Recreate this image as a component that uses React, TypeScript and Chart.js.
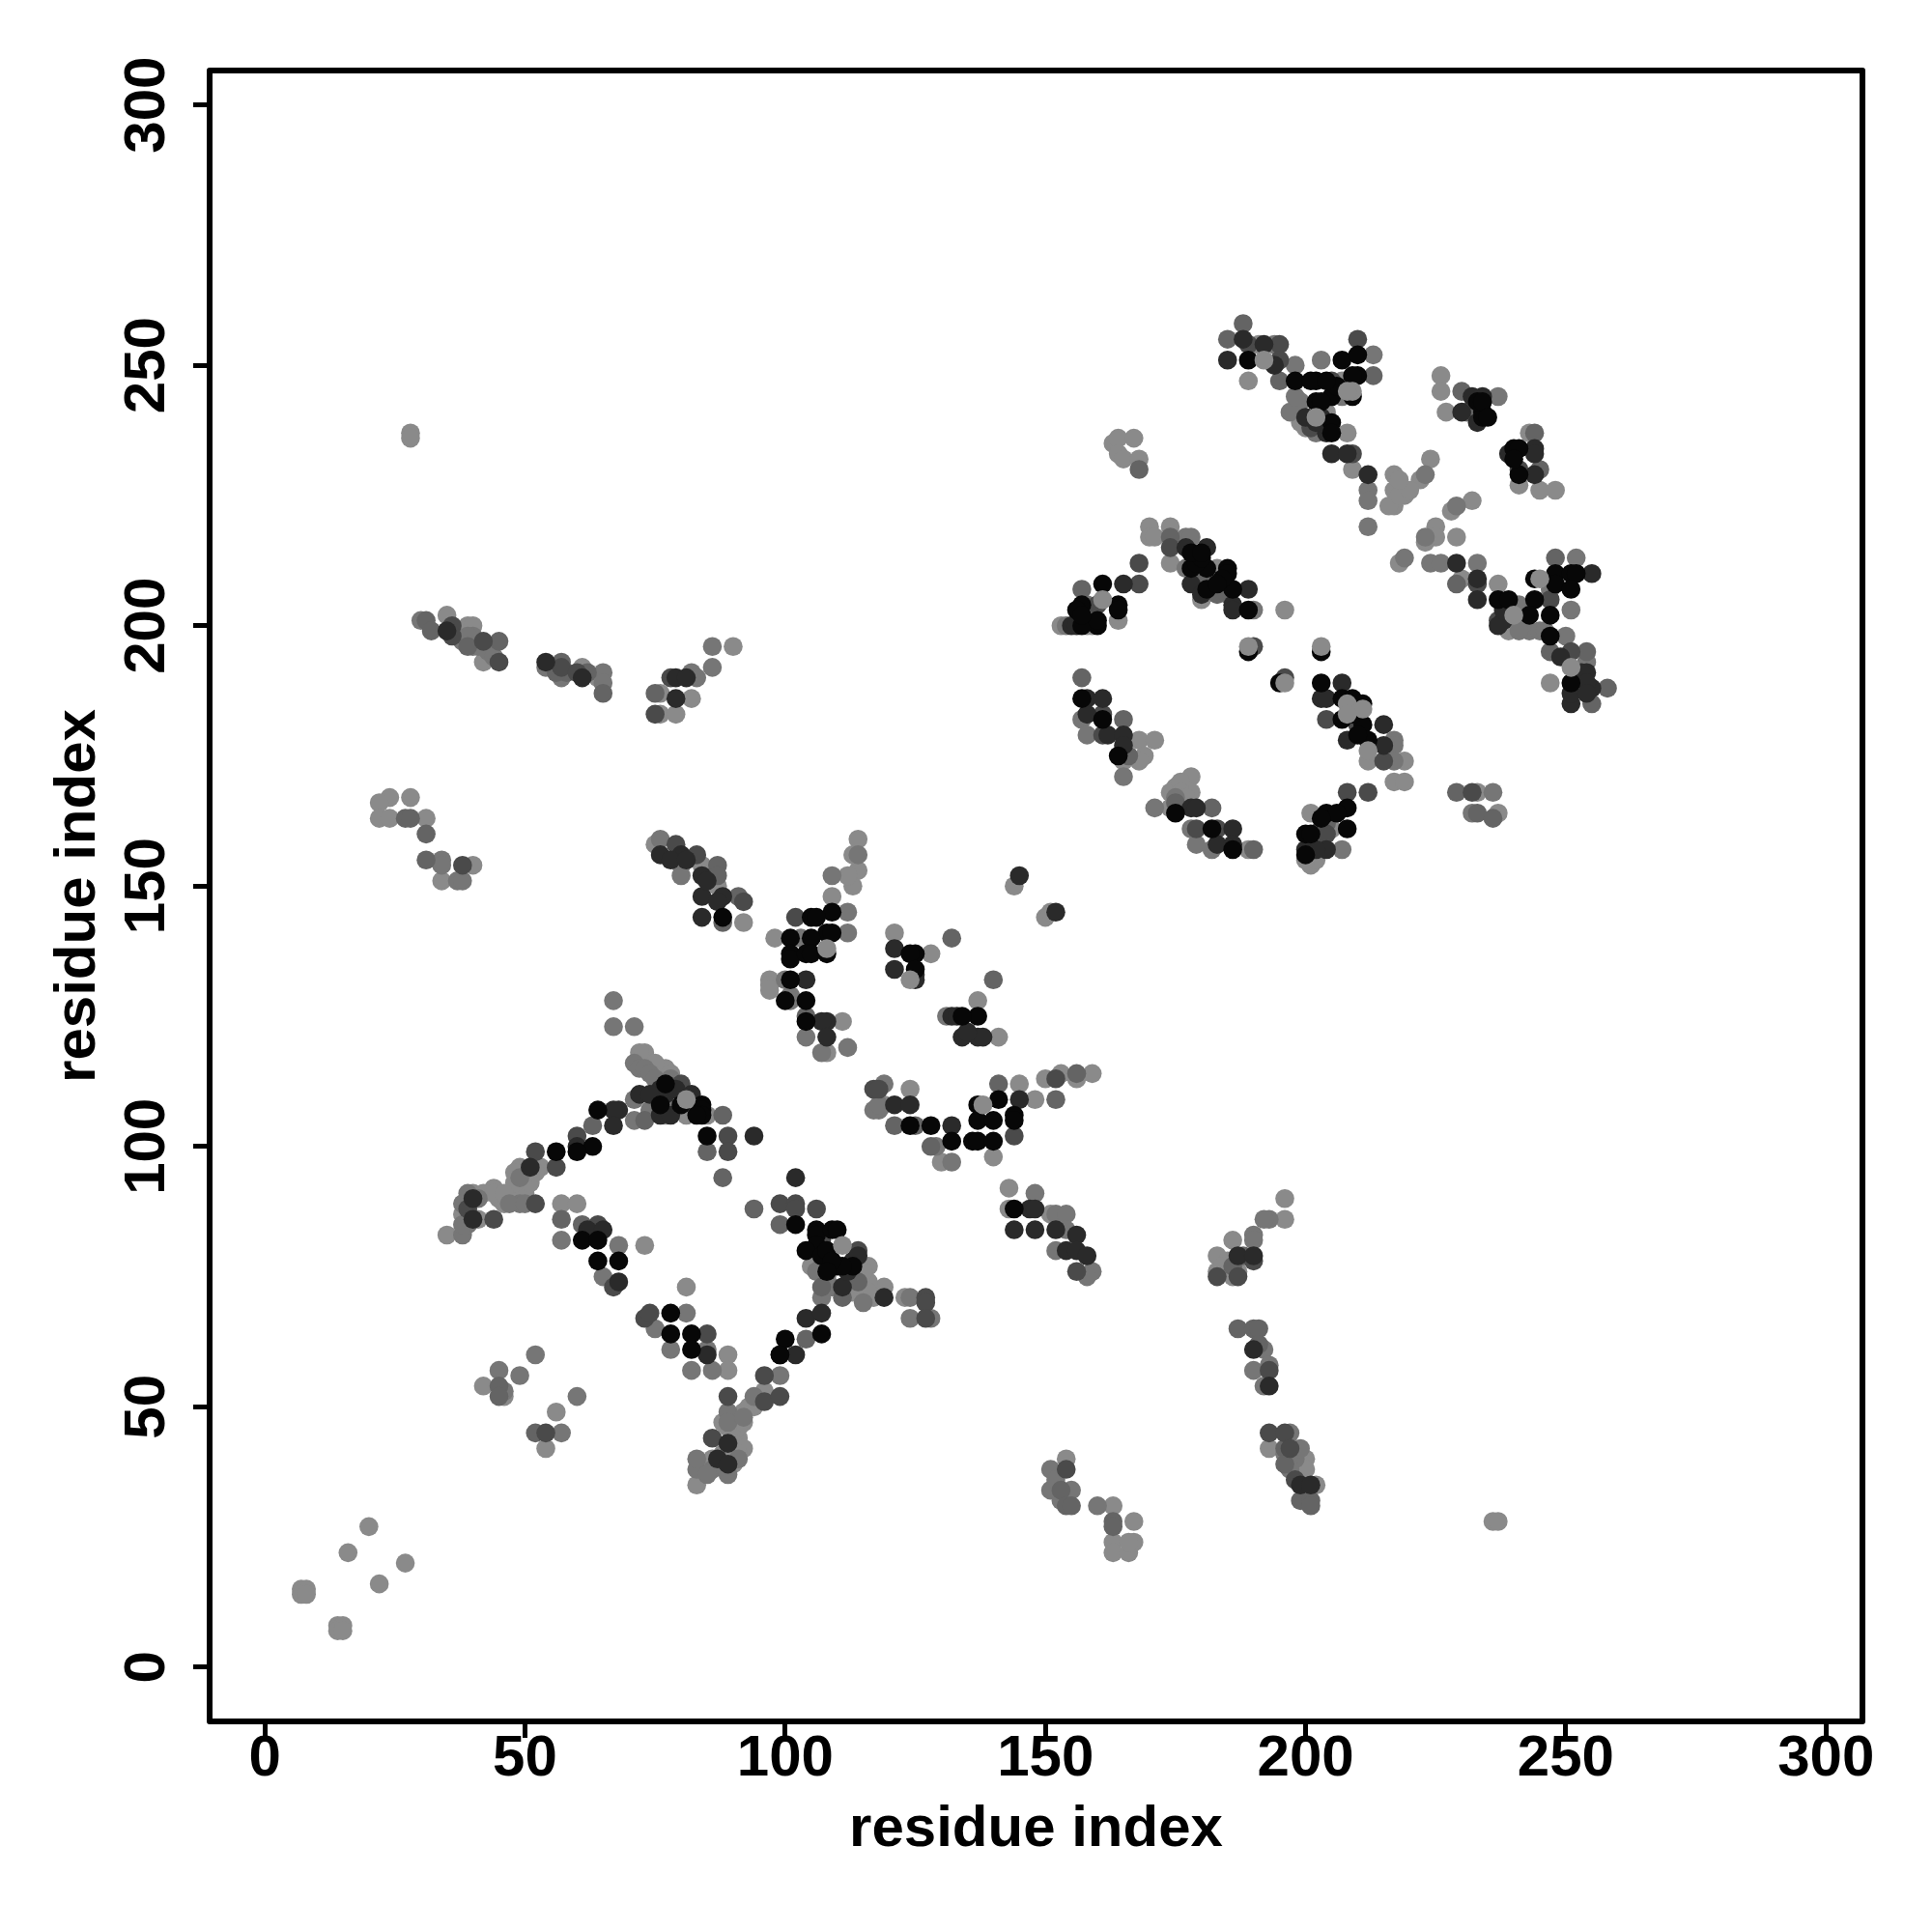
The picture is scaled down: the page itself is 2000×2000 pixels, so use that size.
import React, { useEffect, useRef } from "react";
import { Chart, registerables } from "chart.js";

Chart.register(...registerables);

type P = [number, number];

const tickValues = [0, 50, 100, 150, 200, 250, 300];
const axisLabel = "residue index";

const blackPts: P[] = [[109,145],[105,144],[106,144],[108,141],[109,141],[101,140],[105,140],[101,137],[101,136],[104,137],[105,137],[108,137],[101,132],[104,128],[100,128],[104,124],[125,137],[124,137],[125,134],[137,125],[134,125],[124,104],[128,104],[132,101],[137,108],[141,109],[137,105],[140,105],[144,106],[144,105],[136,101],[137,101],[140,101],[102,85],[106,84],[106,83],[109,84],[110,84],[106,81],[64,107],[84,108],[84,107],[76,108],[80,108],[77,112],[63,100],[60,99],[56,99],[61,82],[64,82],[64,78],[68,78],[78,68],[78,64],[82,64],[82,61],[107,64],[100,63],[99,60],[110,77],[113,77],[111,77],[161,208],[157,204],[164,204],[164,203],[160,200],[157,200],[160,201],[178,211],[181,211],[185,211],[185,210],[181,207],[186,207],[189,203],[189,195],[203,195],[195,189],[203,189],[207,186],[211,185],[207,182],[211,181],[212,178],[208,165],[204,164],[206,164],[208,161],[200,160],[201,160],[200,156],[157,186],[161,182],[164,175],[175,164],[182,161],[186,157],[189,251],[207,251],[210,252],[210,248],[209,248],[198,247],[202,247],[209,244],[202,243],[205,244],[205,239],[205,237],[237,205],[239,205],[248,210],[251,210],[252,210],[244,209],[248,208],[251,207],[244,205],[247,202],[243,202],[247,198],[251,189],[234,241],[234,240],[240,234],[241,229],[88,144],[144,88],[84,106],[83,106],[85,102],[104,80],[107,79],[108,80],[109,78],[108,76],[203,243],[206,246],[201,247],[204,247],[233,243],[234,243],[235,240],[241,234],[240,232],[209,183],[210,179],[209,186],[156,203],[157,202],[179,212],[180,213],[184,209],[183,208],[178,214],[180,214],[203,163]];

const darkPts: P[] = [[145,152],[152,145],[108,124],[107,124],[121,138],[121,134],[125,133],[125,132],[104,132],[108,121],[134,121],[137,121],[138,121],[132,125],[121,108],[124,108],[132,104],[145,109],[102,94],[147,88],[148,88],[144,84],[148,84],[152,84],[154,80],[156,83],[156,80],[158,79],[68,107],[67,107],[67,104],[60,100],[51,96],[40,90],[40,86],[68,74],[85,60],[111,73],[119,71],[104,67],[107,68],[99,60],[102,60],[87,40],[89,43],[89,39],[190,61],[193,54],[199,35],[201,35],[187,79],[190,79],[177,215],[181,215],[165,208],[155,200],[156,200],[178,208],[189,207],[186,204],[186,203],[207,189],[203,186],[204,186],[208,178],[215,181],[215,177],[158,186],[161,186],[158,183],[162,179],[165,179],[165,177],[178,165],[179,165],[186,161],[183,158],[186,158],[204,157],[200,157],[202,157],[188,255],[192,254],[185,251],[194,250],[205,233],[208,233],[212,229],[229,212],[233,209],[233,205],[238,201],[255,210],[254,191],[255,188],[234,244],[230,241],[233,239],[239,233],[244,234],[244,233],[244,229],[35,199],[54,193],[61,190],[79,190],[81,190],[79,186],[84,148],[88,148],[87,147],[84,144],[76,156],[80,156],[84,152],[94,102],[76,111],[77,110],[79,111],[82,110],[72,110],[74,110],[76,106],[78,106],[112,76],[113,78],[114,79],[203,240],[204,237],[200,240],[202,239],[232,244],[249,194],[253,191],[254,189],[251,185],[251,187],[254,187],[237,200],[238,203],[180,206],[62,84],[65,84],[133,125],[135,122],[78,155],[81,155],[85,151]];

const slatePts: P[] = [[102,144],[80,112],[60,102],[56,96],[52,99],[52,89],[44,86],[64,85],[67,73],[73,67],[74,68],[85,64],[127,71],[127,70],[127,67],[99,89],[102,89],[106,88],[102,88],[114,80],[144,102],[152,113],[156,76],[183,75],[187,75],[190,78],[193,57],[193,45],[196,45],[197,42],[154,38],[174,215],[168,212],[168,208],[160,204],[190,196],[196,190],[204,182],[215,174],[208,168],[212,168],[204,160],[161,183],[161,179],[179,161],[183,161],[232,168],[189,254],[195,254],[195,251],[205,247],[201,238],[209,233],[233,208],[237,201],[247,205],[251,195],[210,255],[241,230],[42,197],[45,193],[57,192],[78,190],[92,147],[83,156],[79,158],[75,183],[96,51],[96,56],[89,52],[99,52],[86,44],[54,45],[38,154],[89,102],[89,99],[39,88],[198,36],[210,181],[107,82],[117,111],[118,111],[36,200],[36,198],[60,191]];

const ashPts: P[] = [[132,140],[104,125],[140,132],[121,104],[125,104],[128,100],[141,112],[156,114],[152,109],[94,88],[99,85],[57,86],[61,85],[111,71],[107,73],[114,74],[104,63],[63,104],[73,105],[187,65],[190,65],[191,65],[191,62],[196,42],[196,39],[199,32],[201,32],[201,31],[153,34],[154,31],[155,31],[163,28],[163,27],[45,54],[45,52],[52,45],[174,217],[157,207],[157,190],[165,182],[166,175],[175,166],[182,165],[190,157],[229,168],[233,164],[236,163],[188,258],[185,255],[195,247],[213,248],[231,241],[230,245],[245,230],[244,237],[248,213],[254,195],[247,195],[258,188],[229,208],[31,201],[32,199],[39,196],[45,197],[57,193],[62,191],[65,187],[75,187],[27,163],[28,163],[31,160],[31,155],[91,148],[87,154],[87,152],[88,143],[168,230],[88,106],[85,99],[88,94],[186,77],[188,79],[255,185],[159,201],[179,209],[181,209],[183,206],[185,206],[204,162],[203,161],[202,158],[58,191],[56,191]];

const midPts: P[] = [[114,156],[109,152],[103,140],[100,132],[101,129],[101,128],[104,121],[107,118],[112,119],[112,141],[112,145],[131,125],[119,112],[118,107],[129,100],[132,97],[148,91],[152,87],[154,87],[154,84],[152,80],[159,76],[158,75],[67,128],[67,123],[71,123],[71,116],[72,115],[73,115],[71,109],[71,105],[77,108],[49,89],[39,91],[38,83],[49,94],[57,82],[68,81],[65,75],[75,65],[81,68],[78,61],[85,61],[82,57],[86,57],[124,71],[124,67],[128,67],[107,77],[107,71],[52,60],[45,57],[49,56],[46,53],[60,52],[57,45],[94,52],[99,56],[89,49],[83,38],[83,40],[91,40],[86,38],[192,61],[193,58],[190,57],[192,54],[197,45],[151,38],[151,34],[155,34],[160,31],[190,83],[190,82],[193,86],[192,86],[177,217],[178,217],[177,211],[182,207],[158,204],[154,200],[190,203],[157,182],[158,179],[165,171],[171,165],[178,161],[179,158],[182,157],[207,157],[217,178],[217,177],[217,174],[236,168],[232,164],[194,254],[198,250],[199,243],[202,237],[212,226],[212,224],[212,219],[223,229],[229,223],[223,217],[219,213],[224,212],[226,212],[233,212],[252,213],[251,203],[247,207],[243,199],[250,198],[254,193],[237,244],[203,251],[213,252],[30,201],[34,155],[34,154],[37,151],[38,151],[40,196],[54,192],[57,190],[65,191],[65,189],[86,196],[86,192],[82,191],[83,190],[76,159],[80,154],[80,152],[74,114],[75,113],[78,113],[74,107],[78,107],[47,89],[50,89],[41,90],[38,89],[39,85],[38,85],[89,47],[87,39],[89,37],[85,37],[92,48],[198,40],[197,38],[199,42],[196,41],[152,36],[153,32],[197,241],[198,244],[207,244],[241,204],[241,201],[245,199],[246,199],[241,199],[159,203],[158,202],[106,76],[108,75],[109,73],[115,70],[117,107],[118,108],[41,196],[43,195],[38,197],[40,198],[39,198],[44,194],[175,167],[201,158]];

const greyPts: P[] = [[114,159],[113,156],[114,153],[113,150],[112,152],[109,148],[98,140],[97,132],[97,131],[97,130],[111,124],[108,118],[121,141],[128,137],[137,128],[141,121],[144,150],[150,144],[151,145],[124,111],[119,108],[130,97],[145,112],[148,109],[150,113],[153,114],[159,114],[156,113],[140,98],[143,92],[143,88],[151,87],[116,77],[73,118],[77,115],[44,92],[49,92],[40,91],[42,91],[45,90],[46,89],[49,96],[53,96],[38,87],[41,86],[35,83],[57,89],[60,89],[73,81],[81,73],[89,60],[89,57],[119,73],[116,74],[117,71],[123,71],[20,27],[16,22],[27,20],[22,16],[7,15],[8,15],[7,14],[8,14],[14,8],[15,8],[14,7],[15,7],[42,54],[46,52],[56,49],[54,42],[89,46],[91,44],[92,49],[96,53],[86,40],[90,39],[83,35],[186,82],[183,79],[183,76],[187,76],[196,86],[196,90],[193,42],[200,40],[200,38],[202,35],[236,28],[237,28],[154,40],[163,31],[167,28],[163,24],[163,22],[166,22],[167,24],[166,24],[170,219],[170,217],[171,217],[174,219],[174,212],[183,211],[164,201],[159,200],[212,174],[219,174],[217,170],[219,170],[201,164],[205,161],[201,154],[168,178],[171,178],[169,175],[168,174],[165,174],[174,165],[175,169],[174,168],[178,171],[178,168],[189,157],[233,168],[237,164],[191,254],[189,247],[207,247],[199,239],[208,237],[209,230],[217,229],[217,226],[219,225],[217,223],[216,223],[224,232],[222,228],[232,224],[228,222],[225,219],[229,217],[225,217],[223,216],[218,212],[230,209],[237,208],[239,199],[247,189],[226,248],[226,245],[227,241],[243,237],[241,227],[245,226],[248,226],[35,202],[39,200],[40,200],[42,193],[61,192],[64,190],[90,196],[76,187],[82,186],[76,183],[79,183],[24,167],[28,167],[22,166],[22,163],[24,163],[31,163],[34,151],[40,154],[84,154],[87,150],[75,158],[92,143],[28,237],[28,236],[163,235],[164,236],[167,236],[164,233],[165,232],[168,232],[85,106],[77,106],[81,106],[72,117],[73,116],[74,115],[72,118],[75,116],[78,114],[47,91],[48,90],[50,91],[51,93],[50,95],[52,95],[48,93],[44,91],[46,91],[48,95],[91,46],[92,47],[90,48],[93,50],[95,51],[94,50],[88,47],[90,43],[92,42],[91,41],[88,41],[85,39],[185,78],[184,77],[186,75],[200,238],[204,241],[153,200],[158,200],[180,205],[105,77],[113,75],[115,73],[113,72],[116,72],[115,76],[176,170],[176,168],[177,167],[203,159],[202,155],[200,155],[218,225],[220,226],[218,228]];

const topGreyPts: P[] = [[108,138],[81,109],[111,81],[124,132],[138,108],[196,203],[203,196],[196,189],[189,196],[208,185],[211,184],[161,205],[192,251],[209,245],[245,209],[240,202],[251,192],[202,240],[208,245],[208,183],[212,176]];

const framePlugin = {
  id: "frame",
  afterDraw(chart: any) {
    const { ctx, chartArea: a } = chart;
    ctx.save();
    ctx.strokeStyle = "#000";
    ctx.lineWidth = 6;
    ctx.lineJoin = "round";
    ctx.strokeRect(a.left, a.top, a.right - a.left, a.bottom - a.top);
    ctx.restore();
  },
};

const series = (data: P[], color: string) => ({
  data: data.map(([x, y]) => ({ x, y })),
  backgroundColor: color,
  borderWidth: 0,
  pointRadius: 9.8,
  pointBorderWidth: 0,
});

const font = { family: "'Liberation Sans'", weight: "bold" as const, size: 60 };

export default function App() {
  const ref = useRef<HTMLCanvasElement>(null);
  useEffect(() => {
    const chart = new Chart(ref.current!, {
      type: "scatter",
      data: {
        datasets: [
          series(topGreyPts, "#8a8a8a"),
          series(blackPts, "#070707"),
          series(darkPts, "#2a2a2a"),
          series(slatePts, "#4a4a4a"),
          series(ashPts, "#646464"),
          series(midPts, "#767676"),
          series(greyPts, "#8a8a8a"),
        ],
      },
      options: {
        animation: false,
        responsive: false,
        devicePixelRatio: 1,
        layout: { padding: { top: 73, right: 72, left: 0, bottom: 0 } },
        plugins: { legend: { display: false }, tooltip: { enabled: false } },
        scales: {
          x: {
            type: "linear",
            min: -10.6,
            max: 307,
            afterBuildTicks: (s: any) => { s.ticks = tickValues.map((value) => ({ value })); },
            afterFit: (s: any) => { s.height = 218; },
            border: { display: false },
            grid: { drawOnChartArea: false, drawTicks: true, tickLength: 17, tickWidth: 5, color: "#000" },
            ticks: { font, color: "#000", padding: -14, maxRotation: 0, minRotation: 0, autoSkip: false },
            title: { display: true, text: axisLabel, font, color: "#000", padding: { top: 0, bottom: 70 } },
          },
          y: {
            type: "linear",
            min: -10.4,
            max: 306.6,
            afterBuildTicks: (s: any) => { s.ticks = tickValues.map((value) => ({ value })); },
            afterFit: (s: any) => { s.width = 217; },
            border: { display: false },
            grid: { drawOnChartArea: false, drawTicks: true, tickLength: 17, tickWidth: 5, color: "#000" },
            ticks: { font, color: "#000", padding: -4, minRotation: 90, maxRotation: 90, crossAlign: "center", autoSkip: false },
            title: { display: true, text: axisLabel, font, color: "#000", padding: { top: 45, bottom: 0 } },
          },
        },
      },
      plugins: [framePlugin],
    } as any);
    return () => chart.destroy();
  }, []);
  return (
    <canvas
      ref={ref}
      width={2000}
      height={2000}
      style={{ position: "absolute", left: 0, top: 0, width: 2000, height: 2000, background: "#fff" }}
    />
  );
}
